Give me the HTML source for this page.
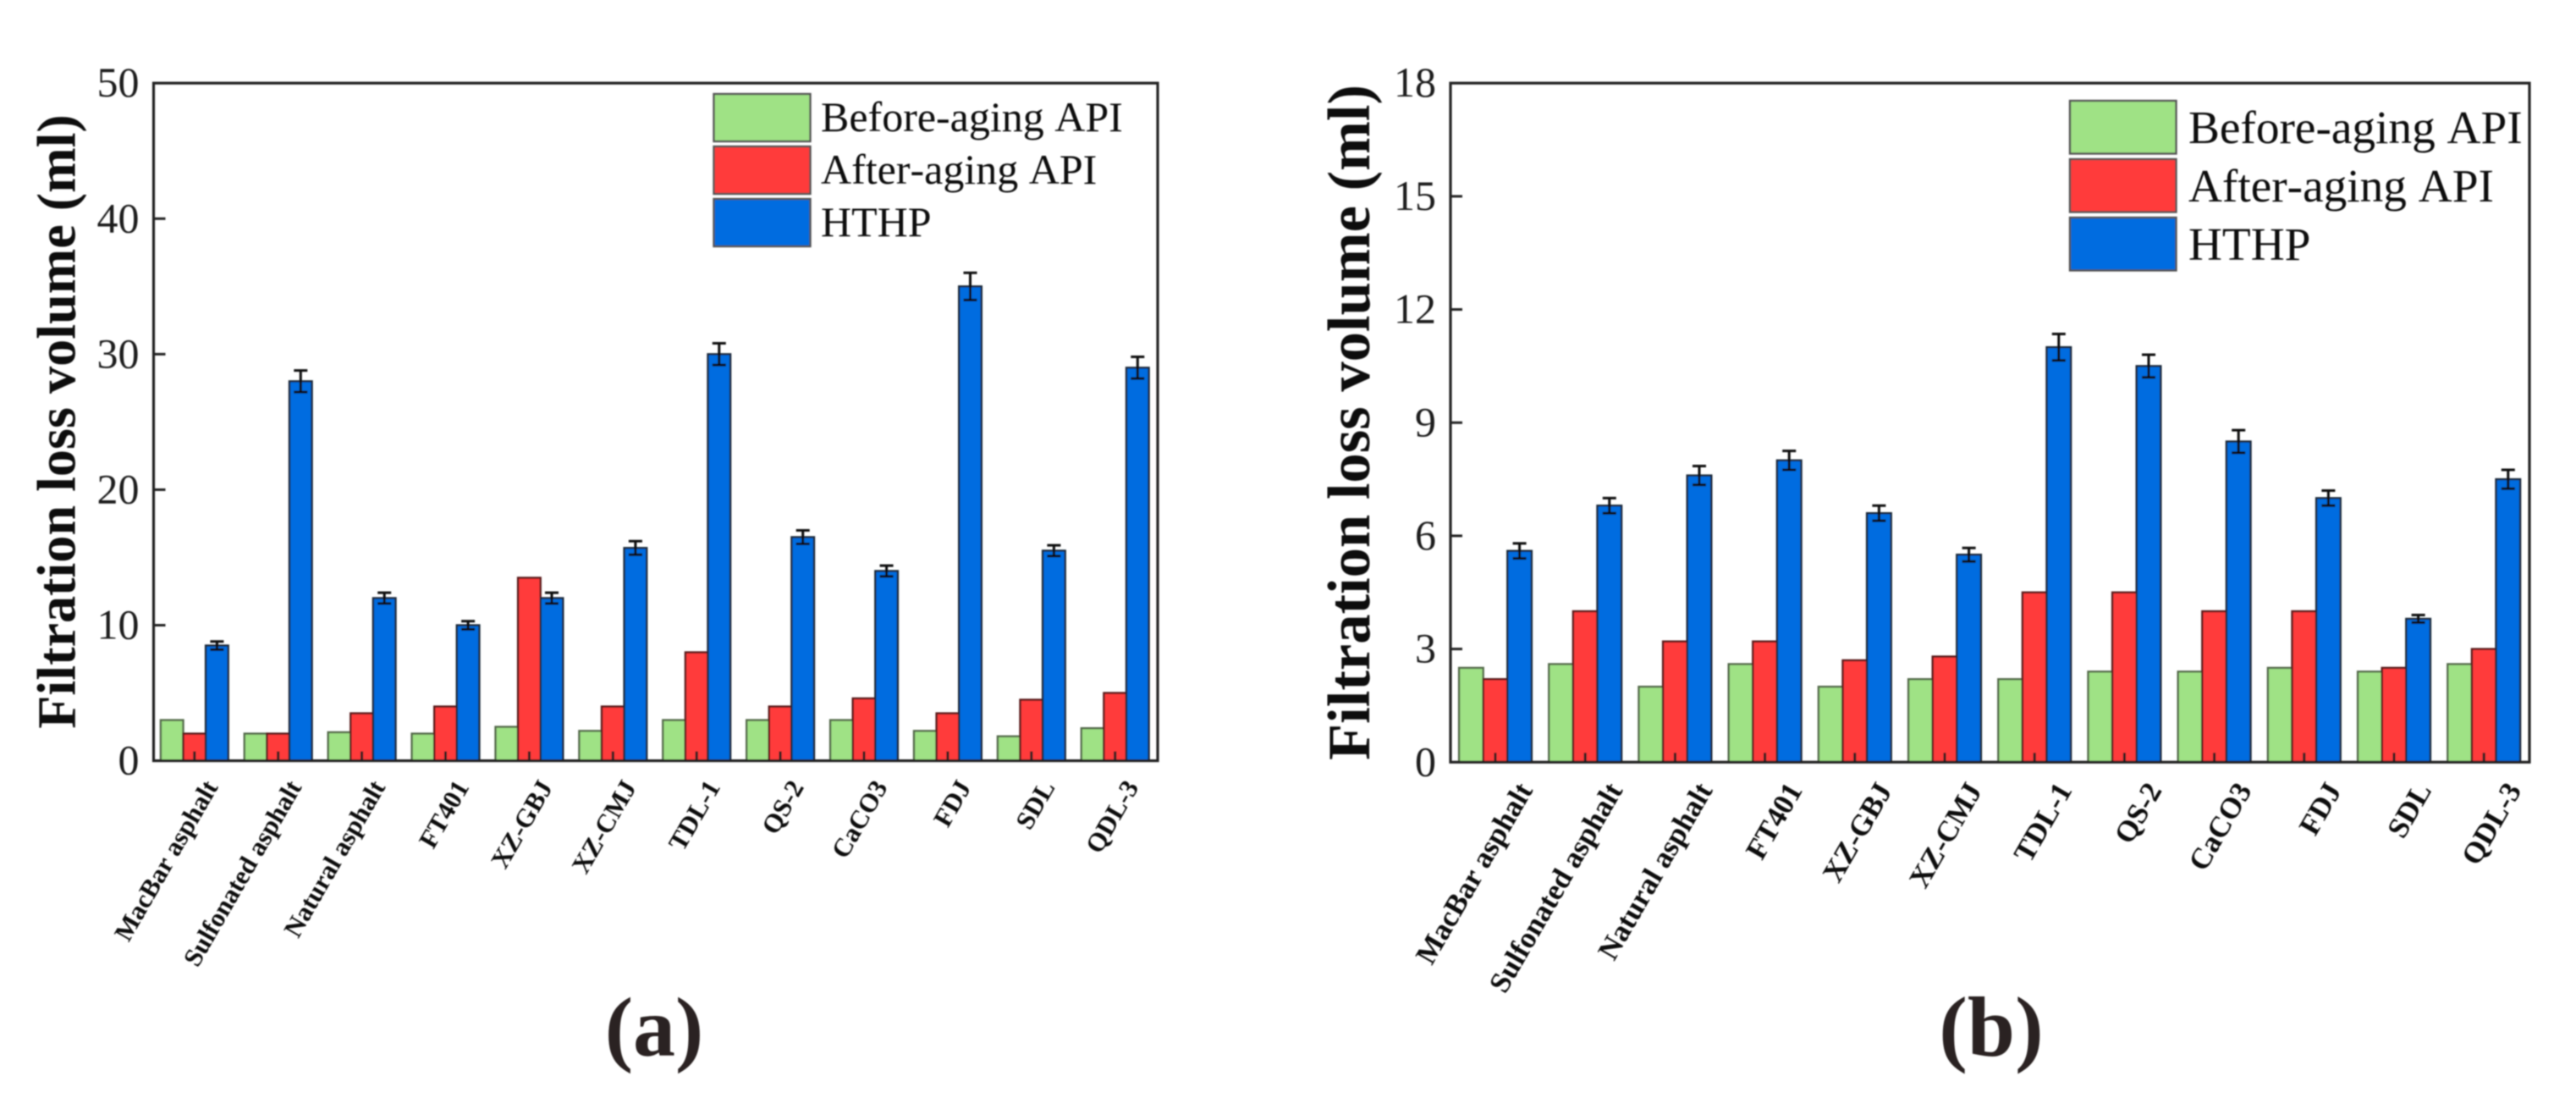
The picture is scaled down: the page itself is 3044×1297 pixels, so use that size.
<!DOCTYPE html>
<html>
<head>
<meta charset="utf-8">
<title>Filtration loss volume charts</title>
<style>
html,body{margin:0;padding:0;background:#fff;}
svg{display:block;font-family:"Liberation Serif",serif;font-kerning:none;}
</style>
</head>
<body>
<svg id="figure" xmlns="http://www.w3.org/2000/svg" width="3044" height="1297" viewBox="0 0 3044 1297">
  <defs>
    <filter id="soft" x="-2%" y="-2%" width="104%" height="104%"><feGaussianBlur stdDeviation="0.8"/></filter>
  </defs>
  <rect x="0" y="0" width="3044" height="1297" fill="#ffffff"/>
  <g id="root" filter="url(#soft)">
    <g id="panel-a"></g>
    <g id="panel-b"></g>
    <text transform="translate(88.5,498) rotate(-90)" text-anchor="middle" font-size="64.2" font-weight="bold" fill="#111">Filtration loss volume (ml)</text>
    <text transform="translate(1618,499) rotate(-90)" text-anchor="middle" font-size="70.6" font-weight="bold" fill="#111">Filtration loss volume (ml)</text>
    <text x="773" y="1247" text-anchor="middle" font-size="100" font-weight="bold" fill="#2a2320">(a)</text>
    <text x="2353" y="1247" text-anchor="middle" font-size="101" font-weight="bold" fill="#2a2320">(b)</text>
  </g>
</svg>
<script>
const categories = ["MacBar asphalt","Sulfonated asphalt","Natural asphalt","FT401","XZ-GBJ","XZ-CMJ","TDL-1","QS-2","CaCO3","FDJ","SDL","QDL-3"];
const seriesNames = ["Before-aging API","After-aging API","HTHP"];

const panelATicks = [0,10,20,30,40,50];
const panelABefore = [3,2,2.1,2,2.5,2.2,3,3,3,2.2,1.8,2.4];
const panelAAfter = [2,2,3.5,4,13.5,4,8,4,4.6,3.5,4.5,5];
const panelAHthp = [8.5,28,12,10,12,15.7,30,16.5,14,35,15.5,29];
const panelAError = [0.3,0.8,0.4,0.3,0.4,0.5,0.8,0.5,0.4,1,0.4,0.8];

const panelBTicks = [0,3,6,9,12,15,18];
const panelBBefore = [2.5,2.6,2,2.6,2,2.2,2.2,2.4,2.4,2.5,2.4,2.6];
const panelBAfter = [2.2,4,3.2,3.2,2.7,2.8,4.5,4.5,4,4,2.5,3];
const panelBHthp = [5.6,6.8,7.6,8,6.6,5.5,11,10.5,8.5,7,3.8,7.5];
const panelBError = [0.2,0.2,0.25,0.25,0.2,0.18,0.35,0.3,0.3,0.2,0.1,0.25];

const seriesColors = ["#9fe285","#ff3b3b","#006ce0"];
const seriesStrokes = ["#556b4c","#5a1f1f","#1c2a3a"];
const NS = "http://www.w3.org/2000/svg";

function make(parent, tag, attrs, text) {
  const el = document.createElementNS(NS, tag);
  for (const k in attrs) el.setAttribute(k, attrs[k]);
  if (text !== undefined) el.textContent = text;
  parent.appendChild(el);
  return el;
}

function drawPanel(group, layout, ticks, before, after, hthp, errors) {
  const yMax = ticks[ticks.length - 1];
  const xScale = i => layout.firstTick + i * layout.pitch;
  const yScale = v => layout.bottom - (v / yMax) * (layout.bottom - layout.top);
  const series = [before, after, hthp];

  series.forEach((values, s) => {
    values.forEach((v, i) => {
      const x = xScale(i) + (s - 1.5) * layout.barWidth;
      const bar = make(group, "rect", {x: x, y: yScale(v), width: layout.barWidth, height: layout.bottom - yScale(v), fill: seriesColors[s], stroke: seriesStrokes[s], "stroke-width": 2.4});
      
      
    });
  });

  errors.forEach((e, i) => {
    const cx = xScale(i) + layout.barWidth;
    const hi = yScale(hthp[i] + e);
    const lo = yScale(hthp[i] - e);
    const eb = make(group, "path", {d: "M" + (cx - 8) + " " + hi + "H" + (cx + 8) + "M" + cx + " " + hi + "V" + lo + "M" + (cx - 8) + " " + lo + "H" + (cx + 8), fill: "none", stroke: "#111", "stroke-width": 3});
    
    
  });

  const frame = make(group, "rect", {x: layout.left, y: layout.top, width: layout.right - layout.left, height: layout.bottom - layout.top, fill: "none", stroke: "#222", "stroke-width": 3.2});
  
  

  ticks.forEach(t => {
    const y = yScale(t);
    if (t !== 0 && t !== yMax) {
      const tk = make(group, "line", {x1: layout.left, x2: layout.left + 14, y1: y, y2: y, stroke: "#222", "stroke-width": 3});
      
      
    }
    const lb = make(group, "text", {x: layout.left - 17, y: y + 16, "text-anchor": "end", "font-size": 50, fill: "#1c1c1c"}, String(t));
    
    
  });

  categories.forEach((c, i) => {
    const x = xScale(i);
    const tk = make(group, "line", {x1: x, x2: x, y1: layout.bottom, y2: layout.bottom - 11, stroke: "#222", "stroke-width": 3});
    
    
    const lb = make(group, "text", {transform: "translate(" + (x + layout.labelDx) + "," + (layout.bottom + layout.labelDy) + ") rotate(-60)", "text-anchor": "end", "font-size": layout.labelSize, "font-weight": "bold", fill: "#111"}, c);
    
    
  });

  seriesNames.forEach((n, s) => {
    const sw = make(group, "rect", {x: layout.legendX, y: layout.legendY + s * layout.legendStep, width: layout.legendW, height: layout.legendH, fill: seriesColors[s], stroke: "#555", "stroke-width": 2.4});
    
    
    const tx = make(group, "text", {x: layout.legendX + layout.legendW + layout.legendGap, y: layout.legendBase + s * layout.legendStep, "font-size": layout.legendSize, fill: "#111"}, n);
    
    
  });
}

drawPanel(document.getElementById("panel-a"),
  {left:181.5, right:1368, top:98.2, bottom:898.6, firstTick:229.8, pitch:98.9, barWidth:26.6, labelSize:31, labelDx:28.5, labelDy:31,
   legendX:843.5, legendY:111, legendW:114, legendH:56, legendStep:62, legendGap:12.5, legendBase:155, legendSize:50},
  panelATicks, panelABefore, panelAAfter, panelAHthp, panelAError);

drawPanel(document.getElementById("panel-b"),
  {left:1714, right:2989, top:98.2, bottom:900.3, firstTick:1767, pitch:106.2, barWidth:28.6, labelSize:35, labelDx:45, labelDy:33,
   legendX:2446, legendY:119, legendW:125.5, legendH:62.5, legendStep:69, legendGap:14.5, legendBase:169, legendSize:55.3},
  panelBTicks, panelBBefore, panelBAfter, panelBHthp, panelBError);
</script>
</body>
</html>
